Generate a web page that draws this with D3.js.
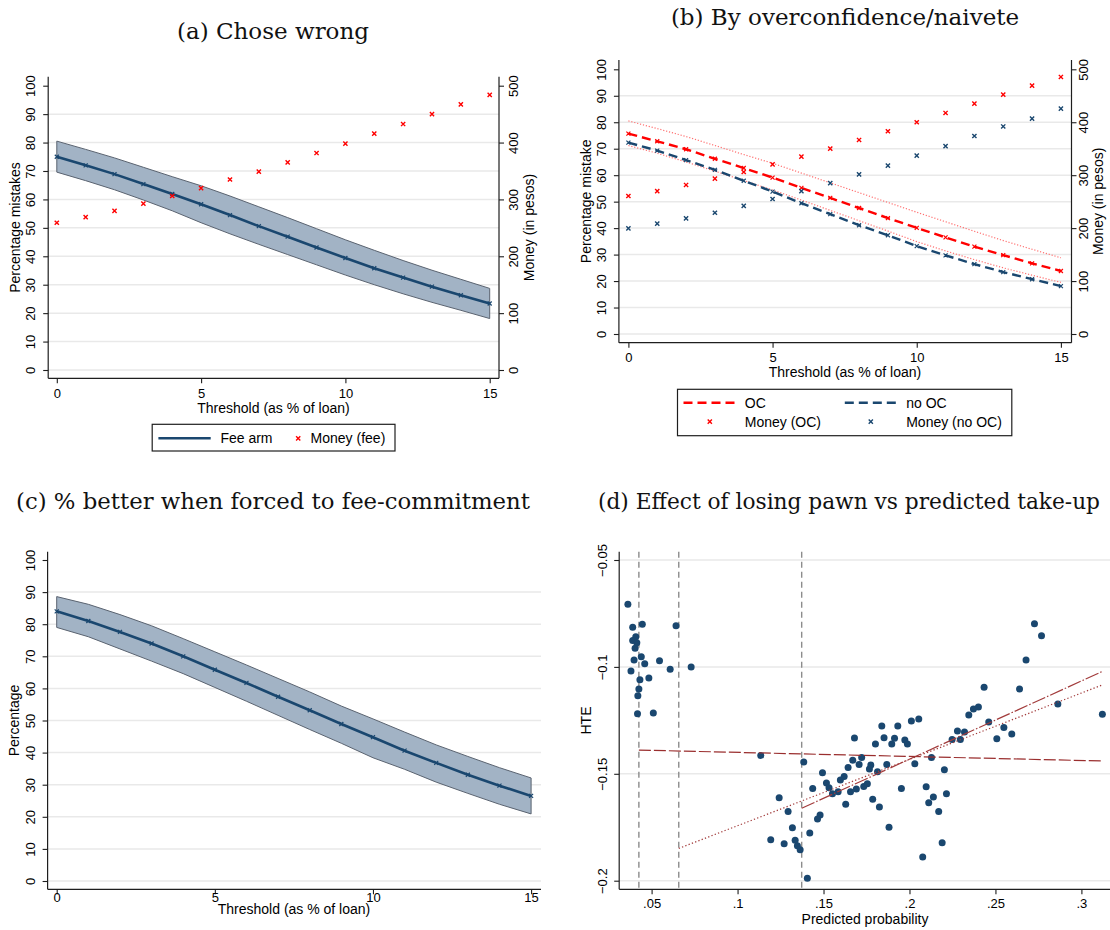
<!DOCTYPE html>
<html>
<head>
<meta charset="utf-8">
<script src="https://cdn.jsdelivr.net/npm/d3@7"></script>
<style>
  body { margin: 0; background: #fff; }
  svg { display: block; }
</style>
</head>
<body>
<svg id="chart" width="1110" height="930"></svg>
<script>
// ---------- data ----------
const thresholds = [0, 1, 2, 3, 4, 5, 6, 7, 8, 9, 10, 11, 12, 13, 14, 15];

// (a) share choosing wrong, fee arm, with confidence band; money at stake
const feeArm   = [75.0, 72.0, 68.9, 65.4, 61.9, 58.3, 54.5, 50.6, 46.9, 43.1, 39.4, 35.8, 32.5, 29.3, 26.3, 23.4];
const feeArmHi = [80.5, 77.6, 74.6, 71.3, 68.0, 64.8, 61.2, 57.4, 53.6, 49.7, 45.8, 42.1, 38.5, 35.1, 31.9, 28.7];
const feeArmLo = [69.6, 66.6, 63.4, 59.8, 56.0, 51.8, 47.9, 44.2, 40.6, 37.0, 33.4, 30.0, 26.8, 23.8, 21.0, 18.1];
const moneyFee = [259, 269, 280, 292.5, 306, 320, 335, 349, 365, 381.6, 398, 415.6, 432.6, 450, 467, 484];

// (b) by overconfidence
const ocLine   = [75.7, 72.8, 69.8, 66.2, 62.7, 59.1, 55.2, 51.4, 47.6, 43.8, 40.1, 36.5, 33.0, 29.8, 26.7, 23.8];
const ocHi     = [80.5, 77.6, 74.6, 71.2, 67.8, 64.5, 60.8, 57.1, 53.4, 49.7, 46.0, 42.4, 38.8, 35.3, 32.0, 28.8];
const ocLo     = [71.2, 68.3, 65.0, 61.5, 58.0, 54.4, 50.6, 46.7, 42.8, 38.9, 34.9, 31.4, 28.1, 25.0, 22.2, 19.5];
const noOcLine = [72.3, 69.3, 65.7, 62.0, 57.9, 53.8, 49.4, 45.3, 41.1, 37.3, 33.2, 29.7, 26.4, 23.4, 20.7, 18.1];
const moneyOC   = [260.7, 270, 281.5, 293.5, 306, 320.5, 335, 350, 366.5, 383, 400, 417.5, 435, 452, 469, 485.5];
const moneyNoOC = [199.6, 208.4, 218.5, 229, 242, 255, 270, 285, 301.6, 318, 337, 355, 374, 392, 407, 425.7];

// (c) better off when forced to fee-commitment
const forcedFee   = [84.0, 81.0, 77.6, 74.0, 70.0, 65.8, 61.7, 57.4, 53.2, 48.9, 44.8, 40.6, 36.8, 33.1, 29.7, 26.5];
const forcedFeeHi = [88.6, 86.2, 83.0, 79.5, 75.5, 71.4, 67.3, 63.1, 58.9, 54.5, 50.5, 46.4, 42.4, 38.8, 35.3, 32.1];
const forcedFeeLo = [79.0, 76.1, 72.3, 68.5, 64.6, 60.3, 56.0, 51.6, 47.2, 42.9, 38.4, 34.8, 30.8, 27.3, 23.9, 20.9];

// (d) heterogeneous effect vs predicted take-up
const predProb = [
  .0362, .0390, .0446, .0642, .0408, .0390, .0414, .0404, .0398, .0440, .0460, .0546, .0608, .0730, .0380,
  .0432, .0484, .0426, .0420, .0418, .0510,
  .1135, .1385, .1242, .1294, .1319, .1193, .1271, .1335, .1348, .1364, .1406, .1420, .1437, .1494, .1517,
  .1532, .1552, .1585, .1480, .1465, .1629, .1598, .1620, .1643, .1657, .1670, .1680, .1691, .1707, .1722,
  .1734, .1755, .1767, .1775, .1786, .1802, .1814, .1825, .1839, .1852, .1868, .1881, .1897, .1913, .1932,
  .1953, .1973, .1988, .2011, .2031, .2054, .2077, .2097, .2112, .2128, .2139, .2170, .2190, .2203, .2215,
  .2248, .2279, .2296, .2320, .2345, .2372, .2401, .2434, .2461, .2508, .2549, .2595, .2640, .2678, .2727,
  .2768, .2863, .3122
];
const hte = [
  -.0707, -.0815, -.0801, -.0807, -.0859, -.0876, -.0887, -.0913, -.0968, -.0952, -.0985, -.0971, -.1011, -.1001, -.1019,
  -.1060, -.1052, -.1103, -.1135, -.1219, -.1216,
  -.1414, -.1445, -.1612, -.1676, -.1752, -.1808, -.1827, -.1811, -.1836, -.1855, -.1989, -.1777, -.1569, -.1495, -.1543,
  -.1565, -.1593, -.1584, -.1693, -.1711, -.1643, -.1529, -.1513, -.1470, -.1584, -.1437, -.1332, -.1571, -.1456, -.1424,
  -.1559, -.1546, -.1477, -.1459, -.1619, -.1361, -.1490, -.1655, -.1276, -.1331, -.1457, -.1750, -.1361, -.1334, -.1276,
  -.1569, -.1342, -.1361, -.1253, -.1453, -.1244, -.1889, -.1560, -.1635, -.1424, -.1608, -.1676, -.1822, -.1481, -.1593,
  -.1339, -.1300, -.1339, -.1304, -.1225, -.1197, -.1187, -.1095, -.1258, -.1336, -.1283, -.1314, -.1103, -.0968, -.0798,
  -.0854, -.1173, -.1222
];
const cutoffs = [.0426, .0658, .1373];
const fitFlatX  = [.0426, .3120], fitFlatY  = [-.1389, -.1440];
const fitSteepX = [.1373, .3120], fitSteepY = [-.1661, -.1022];
const fitDotX   = [.0658, .3120], fitDotY   = [-.1849, -.1085];

const pctTicks = [0, 10, 20, 30, 40, 50, 60, 70, 80, 90, 100];
const pctGrid = [0, 10, 20, 30, 40, 50, 60, 70, 80, 90];
const pesoTicks = [0, 100, 200, 300, 400, 500];
const thrTicks = [0, 5, 10, 15];
const probTicks = [.05, .1, .15, .2, .25, .3];
const hteTicks = [-.05, -.1, -.15, -.2];

// ---------- styling ----------
const SANS = "'Liberation Sans', Arial, sans-serif";
const SERIF = "'DejaVu Serif', serif";
const NAVY = "#1a476f", RED = "#ff0000", GRID = "#e9e9e9", INK = "#1e1e1e";
const BAND = "#a2b3c5", BAND_EDGE = "#5a6370";
const MAROON = "#a23b3b";

const svg = d3.select("#chart");

function xPath(s) { return `M${-s},${-s}L${s},${s}M${-s},${s}L${s},${-s}`; }
const dropZero = d => d3.format("")(d).replace(/^(-?)0\./, "$1.");

function gridLines(g, y, vals, f) {
  g.append("g").selectAll("line").data(vals).join("line")
    .attr("x1", f.l).attr("x2", f.r)
    .attr("y1", d => y(d)).attr("y2", d => y(d))
    .attr("stroke", GRID).attr("stroke-width", 1.5);
}

function axes(g, c) {
  const f = c.f;
  // axis lines
  g.append("line").attr("x1", f.l).attr("x2", f.l).attr("y1", f.t).attr("y2", f.b)
    .attr("stroke", INK).attr("stroke-width", 1.2);
  g.append("line").attr("x1", f.l).attr("x2", f.r).attr("y1", f.b).attr("y2", f.b)
    .attr("stroke", INK).attr("stroke-width", 1.2);

  // left axis
  const ya = g.append("g").attr("transform", `translate(${f.l},0)`)
    .call(d3.axisLeft(c.y).tickValues(c.yTicks).tickFormat(c.yFmt || d3.format("")).tickSize(5));
  ya.select(".domain").remove();
  ya.attr("font-family", SANS).attr("font-size", 13);
  ya.selectAll(".tick line").attr("stroke", INK).attr("stroke-width", 1.1);
  ya.selectAll(".tick text").attr("x", 0).attr("y", 0).attr("dy", null)
    .attr("text-anchor", "middle").attr("fill", "#000")
    .attr("transform", `translate(${-c.yLabOff},0) rotate(-90)`);

  // bottom axis
  const xa = g.append("g").attr("transform", `translate(0,${f.b})`)
    .call(d3.axisBottom(c.x).tickValues(c.xTicks).tickFormat(c.xFmt || d3.format("")).tickSize(5));
  xa.select(".domain").remove();
  xa.attr("font-family", SANS).attr("font-size", 13);
  xa.selectAll(".tick line").attr("stroke", INK).attr("stroke-width", 1.1);
  xa.selectAll(".tick text").attr("y", c.xLabOff).attr("dy", null).attr("fill", "#000");

  // right axis
  if (c.yR) {
    g.append("line").attr("x1", f.r).attr("x2", f.r).attr("y1", f.t).attr("y2", f.b)
      .attr("stroke", INK).attr("stroke-width", 1.2);
    const yr = g.append("g").attr("transform", `translate(${f.r},0)`)
      .call(d3.axisRight(c.yR).tickValues(c.yRTicks).tickFormat(d3.format("")).tickSize(5));
    yr.select(".domain").remove();
    yr.attr("font-family", SANS).attr("font-size", 13);
    yr.selectAll(".tick line").attr("stroke", INK).attr("stroke-width", 1.1);
    yr.selectAll(".tick text").attr("x", 0).attr("y", 0).attr("dy", null)
      .attr("text-anchor", "middle").attr("fill", "#000")
      .attr("transform", `translate(${c.yRLabOff},0) rotate(-90)`);
    g.append("text").attr("transform", `translate(${c.yRTitleX},${(f.t + f.b) / 2}) rotate(-90)`)
      .attr("text-anchor", "middle").attr("font-family", SANS).attr("font-size", 14)
      .text(c.yRTitle);
  }

  // axis titles
  g.append("text").attr("x", c.xTitleX).attr("y", c.xTitleY)
    .attr("text-anchor", "middle").attr("font-family", SANS).attr("font-size", 14)
    .text(c.xTitle);
  g.append("text").attr("transform", `translate(${c.yTitleX},${(f.t + f.b) / 2}) rotate(-90)`)
    .attr("text-anchor", "middle").attr("font-family", SANS).attr("font-size", 14)
    .text(c.yTitle);
}

function title(txt, cx, baseY, size) {
  svg.append("text").attr("x", cx).attr("y", baseY).attr("text-anchor", "middle")
    .attr("font-family", SERIF).attr("font-size", size || 23).attr("fill", "#111").text(txt);
}

function band(g, x, y, hi, lo) {
  const area = d3.area().x((d, i) => x(thresholds[i])).y0((d, i) => y(lo[i])).y1(d => y(d));
  g.append("path").datum(hi).attr("d", area)
    .attr("fill", BAND).attr("stroke", BAND_EDGE).attr("stroke-width", 1);
}

function lineWithMarks(g, x, y, vals, color, dash, width) {
  const line = d3.line().x((d, i) => x(thresholds[i])).y(d => y(d));
  g.append("path").datum(vals).attr("d", line).attr("fill", "none")
    .attr("stroke", color).attr("stroke-width", width).attr("stroke-dasharray", dash || null);
  g.append("g").selectAll("path").data(vals).join("path")
    .attr("transform", (d, i) => `translate(${x(thresholds[i])},${y(d)})`)
    .attr("d", xPath(2)).attr("stroke", color).attr("stroke-width", 1.2).attr("fill", "none");
}

function crosses(g, x, y, vals, color) {
  g.append("g").selectAll("path").data(vals).join("path")
    .attr("transform", (d, i) => `translate(${x(thresholds[i])},${y(d)})`)
    .attr("d", xPath(2.1)).attr("stroke", color).attr("stroke-width", 1.4).attr("fill", "none");
}

// ---------- (a) Chose wrong ----------
{
  const f = { l: 48.2, r: 499, t: 76.7, b: 378.3 };
  const x = d3.scaleLinear().domain([0, 15]).range([56.8, 489.7]);
  const y = d3.scaleLinear().domain([0, 100]).range([370, 85.7]);
  const yR = d3.scaleLinear().domain([0, 500]).range([370, 85.7]);
  const g = svg.append("g");
  gridLines(g, y, pctGrid, f);
  band(g, x, y, feeArmHi, feeArmLo);
  lineWithMarks(g, x, y, feeArm, NAVY, null, 2.6);
  crosses(g, x, yR, moneyFee, RED);
  axes(g, {
    f, x, y, yR, yTicks: pctTicks, xTicks: thrTicks, yRTicks: pesoTicks,
    yLabOff: 13.2, xLabOff: 19.8, yRLabOff: 19, yRTitleX: 534, yRTitle: "Money (in pesos)",
    xTitle: "Threshold (as % of loan)", xTitleX: 273.5, xTitleY: 412.5,
    yTitle: "Percentage mistakes", yTitleX: 19.5
  });
  // legend
  const lg = g.append("g");
  lg.append("rect").attr("x", 152.2).attr("y", 424.3).attr("width", 242.8).attr("height", 26.7)
    .attr("fill", "#fff").attr("stroke", INK).attr("stroke-width", 1.2);
  lg.append("line").attr("x1", 158.4).attr("x2", 210.7).attr("y1", 438.3).attr("y2", 438.3)
    .attr("stroke", NAVY).attr("stroke-width", 2.6);
  lg.append("text").attr("x", 220.4).attr("y", 443.3).attr("font-family", SANS).attr("font-size", 14).text("Fee arm");
  lg.append("path").attr("transform", "translate(298.2,438.3)").attr("d", xPath(2.1))
    .attr("stroke", RED).attr("stroke-width", 1.4);
  lg.append("text").attr("x", 310.6).attr("y", 443.3).attr("font-family", SANS).attr("font-size", 14).text("Money (fee)");
  title("(a) Chose wrong", 273, 38.7);
}

// ---------- (b) By overconfidence/naivete ----------
{
  const f = { l: 618.9, r: 1071.5, t: 60, b: 342.7 };
  const x = d3.scaleLinear().domain([0, 15]).range([628.4, 1060.9]);
  const y = d3.scaleLinear().domain([0, 100]).range([334, 69.3]);
  const yR = d3.scaleLinear().domain([0, 500]).range([334, 69.3]);
  const g = svg.append("g");
  gridLines(g, y, pctGrid, f);
  const dotted = d3.line().x((d, i) => x(thresholds[i])).y(d => y(d));
  [ocHi, ocLo].forEach(s => g.append("path").datum(s).attr("d", dotted).attr("fill", "none")
    .attr("stroke", "#ff7070").attr("stroke-width", 1.2).attr("stroke-dasharray", "1.2,1.8"));
  lineWithMarks(g, x, y, noOcLine, NAVY, "9,5", 2.4);
  lineWithMarks(g, x, y, ocLine, RED, "9,5", 2.4);
  crosses(g, x, yR, moneyOC, RED);
  crosses(g, x, yR, moneyNoOC, NAVY);
  axes(g, {
    f, x, y, yR, yTicks: pctTicks, xTicks: thrTicks, yRTicks: pesoTicks,
    yLabOff: 12.9, xLabOff: 19.3, yRLabOff: 16.5, yRTitleX: 1103, yRTitle: "Money (in pesos)",
    xTitle: "Threshold (as % of loan)", xTitleX: 845, xTitleY: 376.8,
    yTitle: "Percentage mistake", yTitleX: 590.9
  });
  const lg = g.append("g").attr("font-family", SANS).attr("font-size", 14);
  lg.append("rect").attr("x", 677.5).attr("y", 389.3).attr("width", 334.3).attr("height", 46.4)
    .attr("fill", "#fff").attr("stroke", INK).attr("stroke-width", 1.2);
  const r1 = 402.7, r2 = 421.7;
  lg.append("line").attr("x1", 683.5).attr("x2", 736.4).attr("y1", r1).attr("y2", r1)
    .attr("stroke", RED).attr("stroke-width", 2.4).attr("stroke-dasharray", "9,5");
  lg.append("text").attr("x", 744.8).attr("y", r1 + 5).text("OC");
  lg.append("line").attr("x1", 844.8).attr("x2", 897.8).attr("y1", r1).attr("y2", r1)
    .attr("stroke", NAVY).attr("stroke-width", 2.4).attr("stroke-dasharray", "9,5");
  lg.append("text").attr("x", 906.2).attr("y", r1 + 5).text("no OC");
  lg.append("path").attr("transform", `translate(709.8,${r2})`).attr("d", xPath(2.1))
    .attr("stroke", RED).attr("stroke-width", 1.4);
  lg.append("text").attr("x", 744.8).attr("y", r2 + 5).text("Money (OC)");
  lg.append("path").attr("transform", `translate(870.8,${r2})`).attr("d", xPath(2.1))
    .attr("stroke", NAVY).attr("stroke-width", 1.4);
  lg.append("text").attr("x", 906.2).attr("y", r2 + 5).text("Money (no OC)");
  title("(b) By overconfidence/naivete", 845, 25);
}

// ---------- (c) % better when forced to fee-commitment ----------
{
  const f = { l: 47.6, r: 541, t: 551.7, b: 889.3 };
  const x = d3.scaleLinear().domain([0, 15]).range([56.7, 531.1]);
  const y = d3.scaleLinear().domain([0, 100]).range([881, 560]);
  const g = svg.append("g");
  gridLines(g, y, pctGrid, f);
  band(g, x, y, forcedFeeHi, forcedFeeLo);
  lineWithMarks(g, x, y, forcedFee, NAVY, null, 2.6);
  axes(g, {
    f, x, y, yTicks: pctTicks, xTicks: thrTicks,
    yLabOff: 12.3, xLabOff: 12.3,
    xTitle: "Threshold (as % of loan)", xTitleX: 294, xTitleY: 914,
    yTitle: "Percentage", yTitleX: 19
  });
  title("(c) % better when forced to fee-commitment", 273, 509.3, 22.8);
}

// ---------- (d) Effect of losing pawn vs predicted take-up ----------
{
  const f = { l: 619.2, r: 1110, t: 551.7, b: 889.3 };
  const x = d3.scaleLinear().domain([.05, .3]).range([651.6, 1081.4]);
  const y = d3.scaleLinear().domain([-.2, -.05]).range([880.7, 560]);
  const g = svg.append("g");
  gridLines(g, y, hteTicks, f);
  g.append("g").selectAll("line").data(cutoffs).join("line")
    .attr("x1", d => x(d)).attr("x2", d => x(d)).attr("y1", f.t).attr("y2", f.b)
    .attr("stroke", "#8c8c8c").attr("stroke-width", 1.4).attr("stroke-dasharray", "6,4");
  g.append("g").selectAll("circle").data(predProb).join("circle")
    .attr("cx", d => x(d)).attr("cy", (d, i) => y(hte[i])).attr("r", 3.5).attr("fill", NAVY);
  const fit = (xs, ys, dash, color) => g.append("line")
    .attr("x1", x(xs[0])).attr("x2", x(xs[1])).attr("y1", y(ys[0])).attr("y2", y(ys[1]))
    .attr("stroke", color).attr("stroke-width", 1.2).attr("stroke-dasharray", dash);
  fit(fitFlatX, fitFlatY, "12,3", "#9a2e2e");
  fit(fitSteepX, fitSteepY, "14,2,1.5,2", MAROON);
  fit(fitDotX, fitDotY, "1.3,2.2", MAROON);
  axes(g, {
    f, x, y, yTicks: hteTicks, xTicks: probTicks, yFmt: dropZero, xFmt: dropZero,
    yLabOff: 11.8, xLabOff: 18.7,
    xTitle: "Predicted probability", xTitleX: 865, xTitleY: 923.5,
    yTitle: "HTE", yTitleX: 591.3
  });
  title("(d) Effect of losing pawn vs predicted take-up", 849, 509.3, 21.7);
}
</script>
</body>
</html>
